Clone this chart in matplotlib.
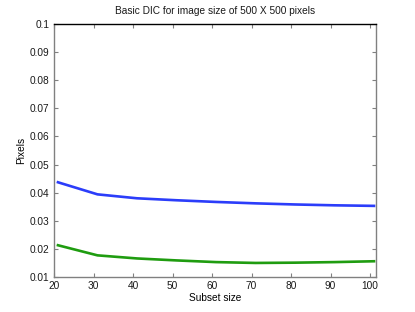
import matplotlib
matplotlib.use("Agg")

import matplotlib.pyplot as plt

subset_size = [21, 31, 41, 51, 61, 71, 81, 91, 101]
error_blue = [0.0437, 0.0394, 0.0380, 0.0373, 0.0367, 0.0362, 0.0358, 0.0355, 0.0353]
error_green = [0.0213, 0.0177, 0.0166, 0.0159, 0.0153, 0.0150, 0.0151, 0.0153, 0.0156]
x_ticks = [20, 30, 40, 50, 60, 70, 80, 90, 100]
y_ticks = [0.01, 0.02, 0.03, 0.04, 0.05, 0.06, 0.07, 0.08, 0.09, 0.1]

plt.rcParams.update({
    "font.family": "Liberation Sans",
    "font.size": 7,
    "text.color": "#1a1a1a",
})

fig = plt.figure(figsize=(4.15, 3.12), dpi=100)
ax = fig.add_axes([54 / 415, 1 - 277 / 312, 322 / 415, 253 / 312])

ax.plot(subset_size, error_blue, color="#2b3dfa", linewidth=1.9)
ax.plot(subset_size, error_green, color="#1f9c10", linewidth=1.9)

ax.set_xlim(20, 101.5)
ax.set_ylim(0.01, 0.1)
ax.set_xticks(x_ticks)
ax.set_yticks(y_ticks)
ax.set_yticklabels([f"{v:g}" for v in y_ticks])

ax.tick_params(direction="in", top=True, right=True, length=3, width=0.8,
               colors="#1a1a1a", labelsize=7.3)
ax.tick_params(axis="both", color="#808080")
ax.tick_params(axis="x", pad=3)
for side in ["left", "bottom", "right"]:
    ax.spines[side].set_color("#808080")
    ax.spines[side].set_linewidth(1.0)
ax.spines["top"].set_color("#000000")
ax.spines["top"].set_linewidth(1.0)

ax.set_title("Basic DIC for image size of 500 X 500 pixels", fontsize=7.3, pad=7)
ax.set_xlabel("Subset size", fontsize=7.3, labelpad=1)
ax.set_ylabel("Pixels", fontsize=7.3, labelpad=2)

fig.savefig("out.png", dpi=100)
